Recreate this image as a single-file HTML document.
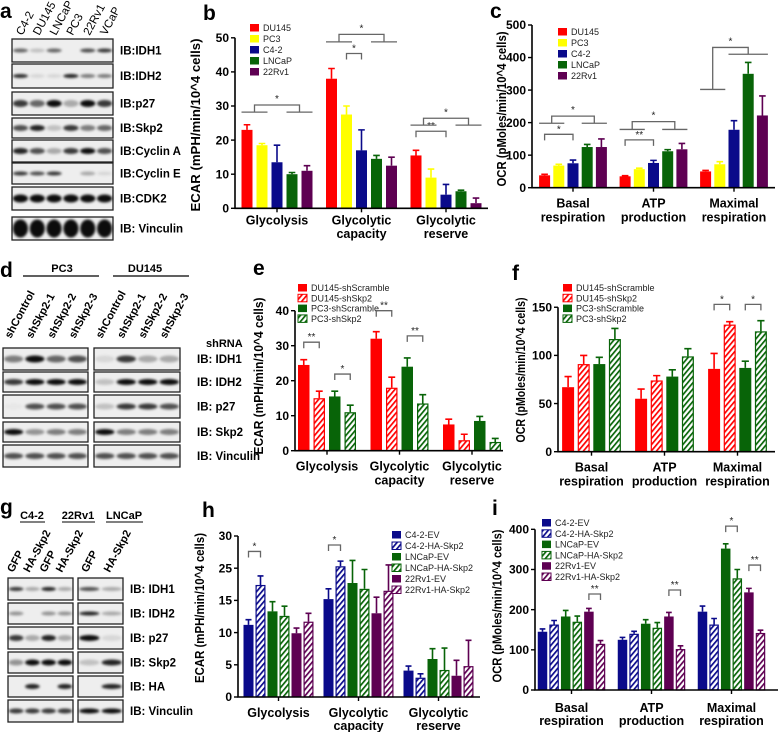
<!DOCTYPE html>
<html><head><meta charset="utf-8"><style>
html,body{margin:0;padding:0;background:#fff;}
svg{display:block;font-family:"Liberation Sans",Arial,sans-serif;}
</style></head><body>
<svg id="fig" width="778" height="732" viewBox="0 0 778 732" xmlns="http://www.w3.org/2000/svg">
<defs>
<filter id="blur" x="-50%" y="-100%" width="200%" height="300%"><feGaussianBlur stdDeviation="1.4"/></filter>
</defs>
</svg>
<script>
// ---------- DATA ----------
// Panel b (ECAR)
const bCategories=["Glycolysis","Glycolytic\ncapacity","Glycolytic\nreserve"];
const bTicks=[0,10,20,30,40,50];
const bDU145=[23,38,15.5], bDU145Err=[1.5,3,1.5];
const bPC3=[18.5,27.5,9], bPC3Err=[0.5,2.5,2.5];
const bC42=[13.5,17,4], bC42Err=[5,6,3];
const bLNCaP=[10,14.5,5], bLNCaPErr=[0.5,1,0.3];
const b22Rv1=[11,12.5,1.5], b22Rv1Err=[1.5,2.5,1.5];
// Panel c (OCR)
const cCategories=["Basal\nrespiration","ATP\nproduction","Maximal\nrespiration"];
const cTicks=[0,100,200,300,400,500];
const cDU145=[38,35,50], cDU145Err=[3,2,3];
const cPC3=[68,57,72], cPC3Err=[4,3,8];
const cC42=[75,76,178], cC42Err=[10,8,28];
const cLNCaP=[125,112,350], cLNCaPErr=[8,5,35];
const c22Rv1=[125,118,222], c22Rv1Err=[25,18,60];
// Panel e
const eCategories=["Glycolysis","Glycolytic\ncapacity","Glycolytic\nreserve"];
const eTicks=[0,10,20,30,40];
const eDUScr=[24.5,32,7.5], eDUScrErr=[1.5,2,1.5];
const eDUSkp=[15,18,3], eDUSkpErr=[2,3,1.7];
const ePCScr=[15.5,24,8.5], ePCScrErr=[1.5,2.5,1.3];
const ePCSkp=[11,13.5,2.5], ePCSkpErr=[2,2.5,1];
// Panel f
const fCategories=["Basal\nrespiration","ATP\nproduction","Maximal\nrespiration"];
const fTicks=[0,50,100,150];
const fDUScr=[67,55,86], fDUScrErr=[11,10,16];
const fDUSkp=[91,74,132], fDUSkpErr=[9,5,3];
const fPCScr=[91,78,87], fPCScrErr=[7,7,7];
const fPCSkp=[117,99,125], fPCSkpErr=[11,8,11];
// Panel h (tick labels as printed in original)
const hCategories=["Glycolysis","Glycolytic\ncapacity","Glycolytic\nreserve"];
const hTicks=[0,5,10,15,20,25];
const hTickLabels=["0","5","10","15","25","30"];
const hC42EV=[11.2,15.2,4.1], hC42EVErr=[0.8,1.6,0.7];
const hC42HA=[17.4,20.3,3], hC42HAErr=[1.4,0.8,0.6];
const hLNEV=[13.3,17.7,5.9], hLNEVErr=[1.5,3.5,1.6];
const hLNHA=[12.6,16.8,4.2], hLNHAErr=[1.5,3,3.4];
const hRvEV=[9.9,13,3.3], hRvEVErr=[0.8,2.5,2.4];
const hRvHA=[11.7,16.5,4.8], hRvHAErr=[1.3,4,4];
// Panel i
const iCategories=["Basal\nrespiration","ATP\nproduction","Maximal\nrespiration"];
const iTicks=[0,100,200,300,400];
const iC42EV=[145,125,195], iC42EVErr=[7,6,14];
const iC42HA=[163,140,163], iC42HAErr=[10,6,15];
const iLNEV=[183,165,352], iLNEVErr=[15,10,12];
const iLNHA=[170,155,278], iLNHAErr=[14,13,22];
const iRvEV=[195,183,243], iRvEVErr=[8,10,10];
const iRvHA=[115,102,142], iRvHAErr=[8,8,7];

// ---------- helpers ----------
const NS="http://www.w3.org/2000/svg";
const svg=document.getElementById('fig');
const defs=svg.querySelector('defs');
function mk(tag,attrs,parent){const e=document.createElementNS(NS,tag);for(const k in attrs)e.setAttribute(k,attrs[k]);(parent||svg).appendChild(e);return e;}
const COLORS={red:"#ff0000",yellow:"#ffff00",blue:"#0a0a8a",green:"#086408",purple:"#5e0052"};
for(const k in COLORS){
  const p=mk('pattern',{id:'hatch-'+k,width:4,height:4,patternUnits:'userSpaceOnUse',patternTransform:'rotate(40)'},defs);
  mk('rect',{x:0,y:0,width:4,height:4,fill:'#fff'},p);
  mk('rect',{x:0,y:0,width:1.7,height:4,fill:COLORS[k]},p);
}

function drawChart(cfg){
  const g=mk('g',{});
  
  
  const Y=v=>cfg.y0-v*cfg.k;
  const n=cfg.series.length;
  const gx=i=>cfg.gc0+i*cfg.gp;
  const bx=(gi,j)=>gx(gi)+(j-(n-1)/2)*cfg.bp;
  cfg.series.forEach((s,j)=>{
    s.vals.forEach((v,gi)=>{
      const cx=bx(gi,j), col=COLORS[s.color];
      const top=Y(v+s.errs[gi]);
      const eb=mk('path',{d:`M${cx},${Y(v)} V${top} M${cx-cfg.bw*0.3},${top} H${cx+cfg.bw*0.3}`,stroke:col,'stroke-width':1.6,fill:'none'},g);
      
      
      const r=mk('rect',{x:cx-cfg.bw/2+(s.hatch?0.6:0),y:Y(v)+(s.hatch?0.6:0),width:cfg.bw-(s.hatch?1.2:0),height:Math.max(0,v*cfg.k-(s.hatch?0.6:0)),fill:s.hatch?`url(#hatch-${s.color})`:col,stroke:s.hatch?col:'none','stroke-width':1.2},g);
      
      
    });
  });
  const ax=mk('path',{d:`M${cfg.ax},${Y(cfg.ticks[cfg.ticks.length-1])} V${cfg.y0} H${cfg.axEnd}`,stroke:'#000','stroke-width':1.6,fill:'none'},g);
  
  
  cfg.ticks.forEach((t,i)=>{
    mk('line',{x1:cfg.ax-4,x2:cfg.ax,y1:Y(t),y2:Y(t),stroke:'#000','stroke-width':1.4},g);
    const tl=mk('text',{x:cfg.ax-6,y:Y(t)+4.2,'text-anchor':'end','font-size':12,'font-weight':'bold'},g);
    
    
    tl.textContent=cfg.tickLabels?cfg.tickLabels[i]:String(t);
  });
  cfg.cats.forEach((c,gi)=>{
    mk('line',{x1:gx(gi),x2:gx(gi),y1:cfg.y0,y2:cfg.y0+4,stroke:'#000','stroke-width':1.4},g);
    c.split('\n').forEach((ln,li)=>{
      const t=mk('text',{x:gx(gi),y:cfg.y0+cfg.labDy+li*cfg.labGap,'text-anchor':'middle','font-size':12.5,'font-weight':'bold'},g);
      
      
      t.textContent=ln;
    });
  });
  const tt=mk('text',{x:0,y:0,transform:`translate(${cfg.tx},${cfg.ty}) rotate(-90)`,'text-anchor':'middle','dominant-baseline':'central','font-size':12.5,'font-weight':'bold',textLength:cfg.tlen,lengthAdjust:'spacingAndGlyphs'},g);
  
  
  tt.textContent=cfg.title;
  cfg.series.forEach((s,j)=>{
    const col=COLORS[s.color];
    const ly=cfg.leg[1]+j*cfg.leg[2];
    const sq=mk('rect',{x:cfg.leg[0],y:ly-4,width:9,height:7.5,fill:s.hatch?`url(#hatch-${s.color})`:col,stroke:s.hatch?col:'none','stroke-width':1},g);
    
    
    const lt=mk('text',{x:cfg.leg[0]+13,y:ly+3,'font-size':9,fill:'#222'},g);
    
    
    lt.textContent=s.name;
  });
  (cfg.brackets||[]).forEach(b=>{
    let d, sx, sy;
    if(b.l){
      const l1=bx(b.g,b.l[0])-cfg.bw/2, l2=bx(b.g,b.l[1])+cfg.bw/2;
      const r1=bx(b.g,b.r[0])-cfg.bw/2, r2=bx(b.g,b.r[1])+cfg.bw/2;
      const lm=(l1+l2)/2, rm=(r1+r2)/2, yt=Y(b.v);
      const yl=Y(b.vl), yr=Y(b.vr);
      d=`M${lm},${yl} V${yt} H${rm} V${yr} M${l1},${yl} H${l2} M${r1},${yr} H${r2}`;
      sx=(lm+rm)/2; sy=yt-5;
    } else {
      const xa=bx(b.g,b.a), xb=bx(b.g,b.b), yt=Y(b.v);
      d=`M${xa},${yt+6} V${yt} H${xb} V${yt+6}`;
      sx=(xa+xb)/2; sy=yt-4;
    }
    const p=mk('path',{d:d,stroke:'#666','stroke-width':1.3,fill:'none'},g);
    
    
    const st=mk('text',{x:sx,y:sy+2,'text-anchor':'middle','font-size':10,fill:'#222'},g);
    
    
    st.textContent=b.t;
  });
}

function S(name,vals,errs,color,hatch){return {name,vals,errs,color,hatch:!!hatch};}

drawChart({name:'panel-b-ecar-chart',cats:bCategories,ticks:bTicks,y0:208.3,k:3.41,ax:235,axEnd:488,gc0:277,gp:84.5,bp:15,bw:11,labDy:16,labGap:13.5,
  tx:196,ty:125,tlen:173,title:"ECAR (mPH/min/10^4 cells)",leg:[250,28,11],
  series:[S("DU145",bDU145,bDU145Err,'red'),S("PC3",bPC3,bPC3Err,'yellow'),S("C4-2",bC42,bC42Err,'blue'),S("LNCaP",bLNCaP,bLNCaPErr,'green'),S("22Rv1",b22Rv1,b22Rv1Err,'purple')],
  brackets:[{g:0,l:[0,1],r:[3,4],v:30.3,vl:28.2,vr:28.2,t:'*'},{g:1,a:1,b:2,v:45.4,t:'*'},{g:1,l:[0,1],r:[3,4],v:51,vl:48.8,vr:48.8,t:'*'},
    {g:2,a:0,b:2,v:22.6,t:'**'},{g:2,l:[0,1],r:[3,4],v:26.4,vl:24.4,vr:24.4,t:'*'}]});

drawChart({name:'panel-c-ocr-chart',cats:cCategories,ticks:cTicks,y0:187.7,k:0.3254,ax:532,axEnd:775,gc0:573,gp:80.5,bp:14.2,bw:11,labDy:20,labGap:14,
  tx:502,ty:109,tlen:155,title:"OCR (pMoles/min/10^4 cells)",leg:[558,32,11],
  series:[S("DU145",cDU145,cDU145Err,'red'),S("PC3",cPC3,cPC3Err,'yellow'),S("C4-2",cC42,cC42Err,'blue'),S("LNCaP",cLNCaP,cLNCaPErr,'green'),S("22Rv1",c22Rv1,c22Rv1Err,'purple')],
  brackets:[{g:0,l:[0,1],r:[3,4],v:220,vl:198,vr:198,t:'*'},{g:0,a:0,b:2,v:164,t:'*'},{g:1,l:[0,1],r:[3,4],v:203,vl:179,vr:179,t:'*'},
    {g:1,a:0,b:2,v:147,t:'**'},{g:2,l:[0,1],r:[2,4],v:431,vl:302,vr:410,t:'*'}]});

drawChart({name:'panel-e-ecar-knockdown-chart',cats:eCategories,ticks:eTicks,y0:450.7,k:3.5,ax:295,axEnd:503,gc0:327,gp:72.5,bp:15.5,bw:11.5,labDy:20,labGap:14,
  tx:259,ty:376,tlen:157,title:"ECAR (mPH/min/10^4 cells)",leg:[298,288,10.3],
  series:[S("DU145-shScramble",eDUScr,eDUScrErr,'red'),S("DU145-shSkp2",eDUSkp,eDUSkpErr,'red',1),S("PC3-shScramble",ePCScr,ePCScrErr,'green'),S("PC3-shSkp2",ePCSkp,ePCSkpErr,'green',1)],
  brackets:[{g:0,a:0,b:1,v:31,t:'**'},{g:0,a:2,b:3,v:21.9,t:'*'},{g:1,a:0,b:1,v:40,t:'**'},{g:1,a:2,b:3,v:32.8,t:'**'}]});

drawChart({name:'panel-f-ocr-knockdown-chart',cats:fCategories,ticks:fTicks,y0:451.7,k:0.963,ax:558,axEnd:775,gc0:591.5,gp:73,bp:15.6,bw:12,labDy:20,labGap:14,
  tx:521,ty:370,tlen:145,title:"OCR (pMoles/min/10^4 cells)",leg:[563,288,10.3],
  series:[S("DU145-shScramble",fDUScr,fDUScrErr,'red'),S("DU145-shSkp2",fDUSkp,fDUSkpErr,'red',1),S("PC3-shScramble",fPCScr,fPCScrErr,'green'),S("PC3-shSkp2",fPCSkp,fPCSkpErr,'green',1)],
  brackets:[{g:2,a:0,b:1,v:153,t:'*'},{g:2,a:2,b:3,v:153,t:'*'}]});

drawChart({name:'panel-h-ecar-overexpression-chart',cats:hCategories,ticks:hTicks,tickLabels:hTickLabels,y0:697,k:6.44,ax:238,axEnd:480,gc0:278.5,gp:80,bp:12,bw:10,labDy:20,labGap:13,
  tx:200,ty:608,tlen:150,title:"ECAR (mPH/min/10^4 cells)",leg:[392,535,11],
  series:[S("C4-2-EV",hC42EV,hC42EVErr,'blue'),S("C4-2-HA-Skp2",hC42HA,hC42HAErr,'blue',1),S("LNCaP-EV",hLNEV,hLNEVErr,'green'),S("LNCaP-HA-Skp2",hLNHA,hLNHAErr,'green',1),S("22Rv1-EV",hRvEV,hRvEVErr,'purple'),S("22Rv1-HA-Skp2",hRvHA,hRvHAErr,'purple',1)],
  brackets:[{g:0,a:0,b:1,v:22.6,t:'*'},{g:1,a:0,b:1,v:23.6,t:'*'}]});

drawChart({name:'panel-i-ocr-overexpression-chart',cats:iCategories,ticks:iTicks,y0:690,k:0.4017,ax:535,axEnd:778,gc0:571.5,gp:80,bp:11.6,bw:9.5,labDy:22,labGap:13,
  tx:497.5,ty:606,tlen:153,title:"OCR (pMoles/min/10^4 cells)",leg:[542,523,10.8],
  series:[S("C4-2-EV",iC42EV,iC42EVErr,'blue'),S("C4-2-HA-Skp2",iC42HA,iC42HAErr,'blue',1),S("LNCaP-EV",iLNEV,iLNEVErr,'green'),S("LNCaP-HA-Skp2",iLNHA,iLNHAErr,'green',1),S("22Rv1-EV",iRvEV,iRvEVErr,'purple'),S("22Rv1-HA-Skp2",iRvHA,iRvHAErr,'purple',1)],
  brackets:[{g:0,a:4,b:5,v:239,t:'**'},{g:1,a:4,b:5,v:249,t:'**'},{g:2,a:2,b:3,v:408,t:'*'},{g:2,a:4,b:5,v:311,t:'**'}]});

// ---------- blots ----------
function blotRow(x,y,w,h,nl,ints,bh,name){
  const g=mk('g',{});
  
  
  mk('rect',{x:x,y:y,width:w,height:h,fill:'#eeeeee',stroke:'#222','stroke-width':1.3},g);
  const lw=w/nl;
  ints.forEach((v,i)=>{
    if(v<=0.02)return;
    mk('ellipse',{cx:x+lw*(i+0.5),cy:y+h/2,rx:lw*0.45,ry:bh/2,fill:'#000','fill-opacity':Math.min(1,v*0.95),filter:'url(#blur)'},g);
  });
}
function label(txt,x,y,opts,name){
  const t=mk('text',Object.assign({x:x,y:y,'font-size':11.5,'font-weight':'bold'},opts||{}));
  
  
  t.textContent=txt;return t;
}
const aLanes=["C4-2","DU145","LNCaP","PC3","22Rv1","VCaP"];
const aRows=[["IB:IDH1",39,23,[0.6,0.2,0.6,0,0.7,0.8],4],["IB:IDH2",64,24,[0.85,0.1,0.1,0.9,0.5,0.5],4],["IB:p27",92,23,[0.8,0.6,1,0.3,1,0.8],7],
 ["IB:Skp2",118,20,[0.7,0.9,0.2,0.8,0.5,0.6],6],["IB:Cyclin A",140,22,[0.9,0.7,0.3,0.8,1,0.7],6],["IB:Cyclin E",163,21,[0.8,0.7,0.8,0,0.3,0.1],4],
 ["IB:CDK2",187,23,[1,1,1,1,1,1],8],["IB: Vinculin",217,23,[1,1,1,1,1,1],18]];
aRows.forEach(r=>{blotRow(12,r[1],101,r[2],6,r[3],r[4],'blot-a-'+r[0].replace(/[^A-Za-z0-9]/g,'').toLowerCase());label(r[0],120,r[1]+r[2]/2+4,{},'blot-label');});
aLanes.forEach((l,i)=>{const lx=12+16.8*(i+0.5)+2;label(l,lx,36,{'font-weight':'normal','font-size':11.5,transform:`rotate(-62 ${lx} 36)`},'lane-label');});
label("PC3",62,272,{'text-anchor':'middle','font-size':11},'group-header');
label("DU145",145,272,{'text-anchor':'middle','font-size':11},'group-header');
mk('line',{x1:23,x2:99,y1:276,y2:276,stroke:'#000','stroke-width':1.2});
mk('line',{x1:113,x2:189,y1:276,y2:276,stroke:'#000','stroke-width':1.2});
const dLanes=["shControl","shSkp2-1","shSkp2-2","shSkp2-3"];
[3,94].forEach(x0=>dLanes.forEach((l,i)=>{const lx=x0+21.4*(i+0.5)-3;label(l,lx,339,{'font-size':11,transform:`rotate(-62 ${lx} 339)`},'lane-label');}));
label("shRNA",206,347,{'font-size':11},'shrna-label');
const dRows=[["IB: IDH1",348,22,[0.5,1,0.6,0.7],[0.1,0.8,0.3,0.3],7],["IB: IDH2",372,20,[0.8,1,1,1],[0.2,1,1,1],6],["IB: p27",395,23,[0.03,0.7,0.7,0.7],[0.2,0.8,0.8,0.7],6],
 ["IB: Skp2",422,20,[1,0.4,0.5,0.5],[1,0.5,0.5,0.5],6],["IB: Vinculin",445,22,[0.7,0.7,0.7,0.7],[0.7,0.7,0.7,0.7],6]];
dRows.forEach(r=>{blotRow(3,r[1],85,r[2],4,r[3],r[5],'blot-d-left');blotRow(94,r[1],86,r[2],4,r[4],r[5],'blot-d-right');label(r[0],197,r[1]+r[2]/2+4,{},'blot-label');});
[["C4-2",32],["22Rv1",78],["LNCaP",124]].forEach(h=>{label(h[0],h[1],519,{'text-anchor':'middle','font-size':11},'group-header');});
mk('line',{x1:20,x2:45,y1:522,y2:522,stroke:'#000','stroke-width':1});
mk('line',{x1:62,x2:95,y1:522,y2:522,stroke:'#000','stroke-width':1});
mk('line',{x1:106,x2:143,y1:522,y2:522,stroke:'#000','stroke-width':1});
const gLanesL=["GFP","HA-Skp2","GFP","HA-Skp2"], gLanesR=["GFP","HA-Skp2"];
gLanesL.forEach((l,i)=>{const lx=8+16.25*(i+0.5)-3;label(l,lx,573,{'font-size':11,transform:`rotate(-62 ${lx} 573)`},'lane-label');});
gLanesR.forEach((l,i)=>{const lx=78+22.5*(i+0.5)-2;label(l,lx,573,{'font-size':11,transform:`rotate(-62 ${lx} 573)`},'lane-label');});
const gRows=[["IB: IDH1",578,22,[0.8,0.3,0.9,0.3],[0.7,0.3],4],["IB: IDH2",603,21,[0.4,0,0.4,0.4],[0.9,0.3],4],["IB: p27",627,22,[0.8,0.3,0.9,0.3],[1,0.1],6],
 ["IB: Skp2",652,21,[0.4,1,1,1],[0.2,0.9],6],["IB: HA",676,21,[0,0.9,0,0.9],[0,0.9],5],["IB: Vinculin",700,22,[0.8,0.8,0.8,0.8],[1,1],5]];
gRows.forEach(r=>{blotRow(8,r[1],65,r[2],4,r[3],r[5],'blot-g-left');blotRow(78,r[1],45,r[2],2,r[4],r[5],'blot-g-right');label(r[0],130,r[1]+r[2]/2+4,{},'blot-label');});
[["a",0,18],["b",203,20],["c",490,18],["d",0,277],["e",253,275],["f",512,280],["g",0,514],["h",202,517],["i",492,515]].forEach(p=>{
  label(p[0],p[1],p[2],{'font-size':21},'panel-letter-'+p[0]);
});
</script>
</body></html>
